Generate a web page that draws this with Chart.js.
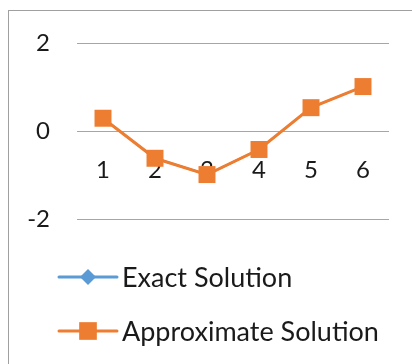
<!DOCTYPE html>
<html>
<head>
<meta charset="utf-8">
<script src="https://cdn.jsdelivr.net/npm/chart.js@4/dist/chart.umd.min.js"></script>
<style>
  html, body { margin: 0; padding: 0; background: #ffffff; }
  #wrap { width: 412px; height: 364px; position: relative; }
</style>
</head>
<body>
<div id="wrap"><canvas id="c" width="412" height="364"></canvas></div>
<script>
// Solution values at each step
const steps = ['1', '2', '3', '4', '5', '6'];
const exactValues = [0.29, -0.62, -0.99, -0.42, 0.53, 1.01];
const approxValues = [0.29, -0.62, -0.99, -0.42, 0.53, 1.01];
const seriesNames = ['Exact Solution', 'Approximate Solution'];
const yTicks = [-2, 0, 2];

const FONT = 'Lato, "Open Sans", sans-serif';
const TEXT = '#1a1a1a';

// Outer frame of the chart box
const framePlugin = {
  id: 'frame',
  beforeDraw(chart) {
    const ctx = chart.ctx;
    ctx.save();
    ctx.strokeStyle = '#a0a0a0';
    ctx.lineWidth = 1;
    ctx.strokeRect(8.5, 10.5, 600, 600);
    ctx.restore();
  }
};

// Legend drawn below the plot: line + marker + label for each series
const legendPlugin = {
  id: 'lineLegend',
  afterDraw(chart) {
    const ctx = chart.ctx;
    const rows = [277, 331];
    ctx.save();
    chart.data.datasets.forEach((ds, i) => {
      const y = rows[i];
      ctx.strokeStyle = ds.borderColor;
      ctx.lineWidth = 3;
      ctx.lineCap = 'round';
      ctx.beginPath();
      ctx.moveTo(59, y);
      ctx.lineTo(117, y);
      ctx.stroke();
      ctx.fillStyle = ds.backgroundColor;
      ctx.strokeStyle = ds.backgroundColor;
      Chart.helpers.drawPoint(ctx, {
        pointStyle: ds.pointStyle,
        radius: ds.legendRadius,
        borderWidth: 0
      }, 88, y);
      ctx.fillStyle = TEXT;
      ctx.font = '27px ' + FONT;
      ctx.textAlign = 'left';
      ctx.textBaseline = 'middle';
      ctx.fillText(ds.label, 122, y + 1);
    });
    ctx.restore();
  }
};

new Chart(document.getElementById('c'), {
  type: 'line',
  data: {
    labels: steps,
    datasets: [
      {
        label: seriesNames[0],
        data: exactValues,
        borderColor: '#5B9BD5',
        backgroundColor: '#5B9BD5',
        borderWidth: 2,
        pointStyle: 'rectRot',
        pointRadius: 7,
        pointBorderWidth: 0,
        legendRadius: 8,
        order: 2
      },
      {
        label: seriesNames[1],
        data: approxValues,
        borderColor: '#ED7D31',
        backgroundColor: '#ED7D31',
        borderWidth: 3,
        pointStyle: 'rect',
        pointRadius: 12,
        pointBorderWidth: 0,
        legendRadius: 12.5,
        order: 1
      }
    ]
  },
  options: {
    responsive: false,
    animation: false,
    devicePixelRatio: 1,
    layout: { padding: { left: 0, right: 23, top: 43, bottom: 145 } },
    plugins: {
      legend: { display: false },
      tooltip: { enabled: false }
    },
    elements: {
      line: { tension: 0 },
      point: { borderWidth: 0, hoverRadius: 12 }
    },
    scales: {
      x: {
        type: 'category',
        position: { y: 0 },
        offset: true,
        grid: { display: false, drawTicks: false },
        border: { display: false },
        ticks: {
          color: TEXT,
          font: { family: FONT, size: 24 },
          padding: 25,
          maxRotation: 0
        }
      },
      y: {
        min: -2,
        max: 2,
        afterFit(scale) { scale.width = 77; },
        afterBuildTicks(scale) { scale.ticks = yTicks.map(v => ({ value: v })); },
        grid: { color: '#a6a6a6', lineWidth: 1, drawTicks: false },
        border: { display: false },
        ticks: {
          color: TEXT,
          font: { family: FONT, size: 24 },
          padding: 27
        }
      }
    }
  },
  plugins: [framePlugin, legendPlugin]
});
</script>
</body>
</html>
